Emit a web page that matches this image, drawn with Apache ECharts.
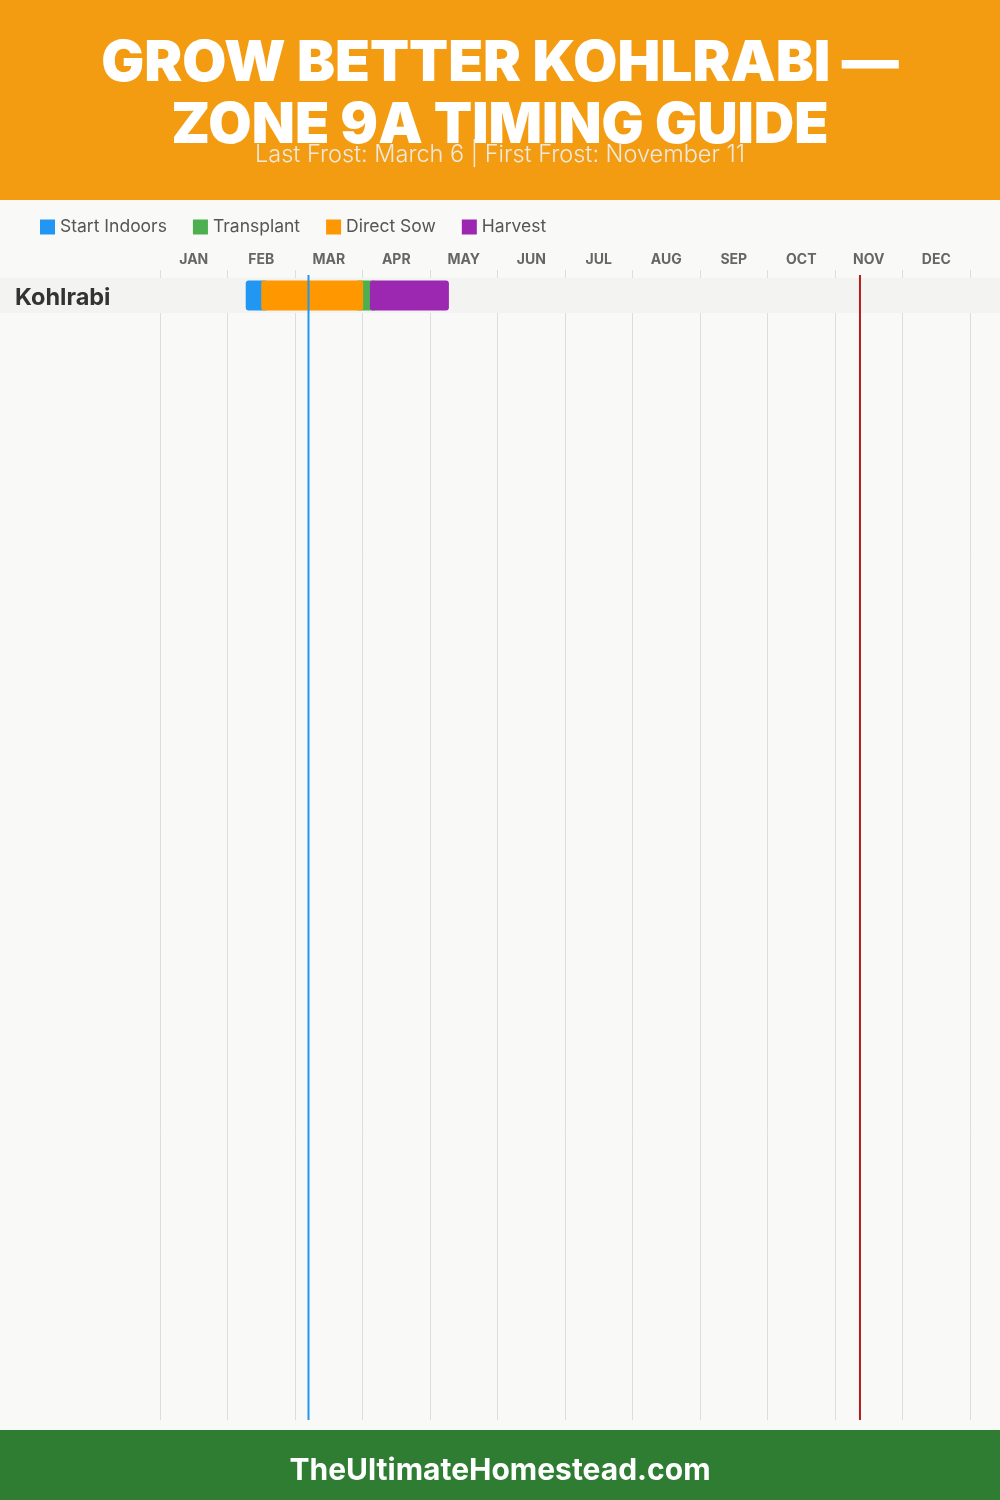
<!DOCTYPE html>
<html>
<head>
<meta charset="utf-8">
<script src="https://cdn.jsdelivr.net/npm/echarts@6/dist/echarts.min.js"></script>
<style>
html,body{margin:0;padding:0;background:#F9F9F7;}
#chart{width:1000px;height:1500px;}
</style>
</head>
<body>
<div id="chart"></div>
<script>
// ---- data ----
const months = ['JAN','FEB','MAR','APR','MAY','JUN','JUL','AUG','SEP','OCT','NOV','DEC'];
const crops = ['Kohlrabi'];
// values in month units (0 = Jan 1, 12 = end of Dec): [start, end, cropIndex]
const startIndoors = [[1.27, 1.60, 0]];
const transplant   = [[2.90, 3.20, 0]];
const directSow    = [[1.50, 3.01, 0]];
const harvest      = [[3.11, 4.28, 0]];
const lastFrost  = 2.2;    // March 6
const firstFrost = 10.37;  // November 11
const titleLines = ['GROW BETTER KOHLRABI —', 'ZONE 9A TIMING GUIDE'];
const subtitle = 'Last Frost: March 6 | First Frost: November 11';
const footer = 'TheUltimateHomestead.com';

const colors = {
  'Start Indoors': '#2196F3',
  'Transplant': '#4CAF50',
  'Direct Sow': '#FF9800',
  'Harvest': '#9C27B0'
};
const ROW_MIN = -0.23, ROW_MAX = 32.63;
const FONT = 'Inter, "Open Sans", sans-serif';

function barRender(color) {
  return function (params, api) {
    const row = api.value(2);
    const s = api.coord([api.value(0), row + 0.5]);
    const e = api.coord([api.value(1), row + 0.5]);
    const h = api.size([0, 1])[1] * 30 / 35;
    return {
      type: 'rect',
      shape: { x: s[0], y: s[1] - h / 2, width: e[0] - s[0], height: h, r: 3 },
      style: { fill: color }
    };
  };
}

function barSeries(name, data) {
  return {
    name: name, type: 'custom', xAxisIndex: 0, yAxisIndex: 0,
    renderItem: barRender(colors[name]),
    itemStyle: { color: colors[name] },
    data: data, z: 3
  };
}

function centerText(text, y, font, fill) {
  return { type: 'text', x: 500, y: y, z: 10,
    style: { text: text, fill: fill, font: font, textAlign: 'center', textVerticalAlign: 'middle', align: 'center', verticalAlign: 'middle' } };
}

const chart = echarts.init(document.getElementById('chart'), null, { renderer: 'canvas' });
const option = {
  backgroundColor: '#F9F9F7',
  animation: false,
  graphic: [
    { type: 'rect', left: 0, top: 0, shape: { width: 1000, height: 200 }, style: { fill: '#F39C12' }, z: -10 },
    { type: 'rect', left: 0, top: 1430, shape: { width: 1000, height: 70 }, style: { fill: '#2E7D32' }, z: -10 },
    centerText(titleLines[0], 64, '900 57px ' + FONT, '#fff'),
    centerText(titleLines[1], 126, '900 56px ' + FONT, '#fff'),
    centerText(subtitle, 155, '300 23.5px ' + FONT, 'rgba(240,240,240,0.92)'),
    centerText(footer, 1471, '700 30px ' + FONT, '#fff')
  ],
  legend: {
    data: ['Start Indoors', 'Transplant', 'Direct Sow', 'Harvest'],
    left: 40, top: 218, padding: 0, icon: 'rect', itemWidth: 15, itemHeight: 15, itemGap: 26,
    textStyle: { fontSize: 17.5, color: '#555', fontFamily: FONT }
  },
  grid: { left: 160, right: 30, top: 270, bottom: 80, containLabel: false },
  xAxis: [
    {
      type: 'value', min: 0, max: 12, interval: 1, position: 'bottom',
      axisLine: { show: false }, axisTick: { show: false }, axisLabel: { show: false },
      splitLine: { show: true, lineStyle: { color: '#DDDDDD', width: 1 } }
    },
    {
      type: 'category', data: months, position: 'top', boundaryGap: true,
      axisLine: { show: false }, axisTick: { show: false },
      axisLabel: { color: '#666', fontSize: 14, fontWeight: 700, fontFamily: FONT, margin: 3 },
      splitLine: { show: false }
    }
  ],
  yAxis: {
    type: 'value', inverse: true, min: ROW_MIN, max: ROW_MAX,
    show: false, splitLine: { show: false }
  },
  series: [
    {
      name: 'rows', type: 'custom', z: 1, silent: true,
      data: crops.map((c, i) => [0, i]),
      renderItem: function (params, api) {
        const i = api.value(1);
        const top = api.coord([0, i])[1];
        const bot = api.coord([0, i + 1])[1];
        return {
          type: 'group',
          children: [
            { type: 'rect', shape: { x: 0, y: top, width: api.getWidth(), height: bot - top }, style: { fill: '#F3F3F2' } },
            { type: 'text', x: 15, y: (top + bot) / 2 + 2, style: { text: crops[i], fill: '#333', font: '700 23.5px ' + FONT, textVerticalAlign: 'middle', verticalAlign: 'middle' } }
          ]
        };
      }
    },
    barSeries('Start Indoors', startIndoors),
    barSeries('Transplant', transplant),
    barSeries('Direct Sow', directSow),
    barSeries('Harvest', harvest),
    {
      name: 'frost', type: 'custom', z: 5, silent: true,
      data: [[lastFrost, 0], [firstFrost, 1]],
      renderItem: function (params, api) {
        const v = api.value(0);
        const p1 = api.coord([v, -0.09]);
        const p2 = api.coord([v, ROW_MAX]);
        return {
          type: 'line',
          shape: { x1: p1[0], y1: p1[1], x2: p2[0], y2: p2[1] },
          style: { stroke: api.value(1) === 0 ? '#2196F3' : '#B71C1C', lineWidth: 2 }
        };
      }
    }
  ]
};
chart.setOption(option);
</script>
</body>
</html>
